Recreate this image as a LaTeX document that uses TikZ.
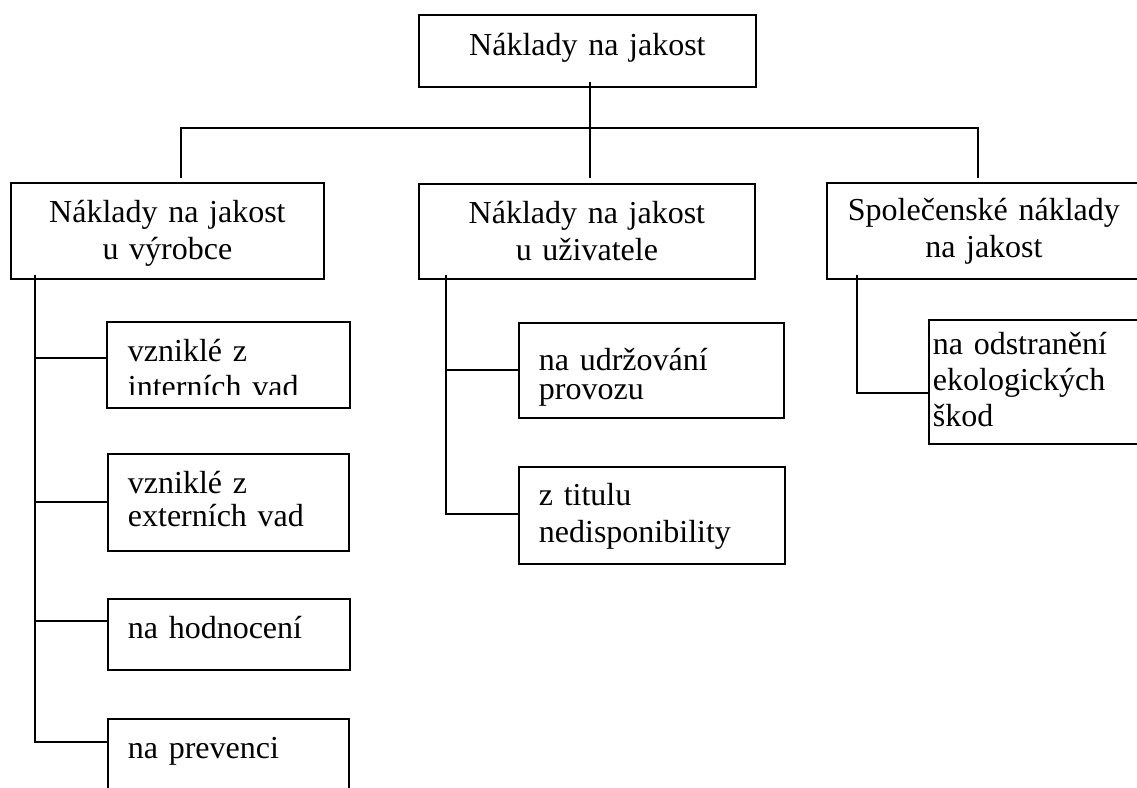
\documentclass[tikz,border=0pt]{standalone}
\usepackage{fontspec}
\setmainfont{Liberation Serif}
\tikzset{
  box/.style={draw, line width=1.8pt, anchor=north west, inner ysep=0pt, font=\fontsize{32}{37}\selectfont},
  head/.style={box, inner xsep=5pt, align=center},
  leaf/.style={box, inner xsep=20pt, align=left},
  dims/.style n args={3}{text width=#1, text height=#2, text depth=#3},
  link/.style={line width=1.8pt},
}
\begin{document}
\begin{tikzpicture}[x=1pt, y=-1pt]
\clip (0,0) rectangle (1137,787);

% upper level
\node[head, dims={327pt}{41pt}{31pt}] (top) at (418,14) {Náklady na jakost};
\node[head, dims={303pt}{40pt}{56pt}] (vyr) at (10,182) {Náklady na jakost\\u výrobce};
\node[head, dims={326pt}{40pt}{55pt}] (uziv) at (418,183) {Náklady na jakost\\u uživatele};
\node[head, dims={304pt}{38pt}{58pt}] (spol) at (826,182) {Společenské náklady\\na jakost};

% manufacturer
\begin{scope}
\clip (107,322) rectangle (348,394);
\node[leaf, draw=none, dims={201pt}{39pt}{45pt}, font=\fontsize{32}{36}\selectfont] (int) at (107,322) {vzniklé z\\interních vad};
\end{scope}
\draw[link] (int.north west) rectangle (int.south east);
\node[leaf, dims={201pt}{40pt}{57pt}, font=\fontsize{32}{33}\selectfont] (ext) at (107,453) {vzniklé z\\externích vad};
\node[leaf, dims={202pt}{40pt}{31pt}] (hod) at (107,598) {na hodnocení};
\node[leaf, dims={201pt}{40pt}{60pt}] (prev) at (107,718) {na prevenci};

% user
\node[leaf, dims={225pt}{48pt}{47pt}, font=\fontsize{32}{29}\selectfont] (udrz) at (518,322) {na udržování\\provozu};
\node[leaf, dims={226pt}{39pt}{58pt}] (titul) at (518,466) {z titulu\\nedisponibility};

% society
\node[leaf, inner xsep=4pt, dims={204pt}{35pt}{89pt}, font=\fontsize{32}{36}\selectfont] (ekol) at (928,319) {na odstranění\\ekologických\\škod};

% connectors
\coordinate (bus) at (590,128);
\draw[link, shorten <=-6pt, shorten >=5pt] (top.south -| bus) -- (uziv.north -| bus);
\draw[link, shorten <=4pt, shorten >=4pt] ([xshift=13.5pt]vyr.north) |- (bus) -| ([xshift=-6pt]spol.north);

\coordinate (vyrstem) at ([xshift=25pt, yshift=5pt]vyr.south west);
\foreach \n/\dy in {int/36, ext/49, hod/23, prev/24}
  \draw[link] (vyrstem) |- ([yshift=-\dy pt]\n.north west);

\coordinate (uzivstem) at ([xshift=28pt, yshift=5pt]uziv.south west);
\foreach \n/\dy in {udrz/48, titul/48}
  \draw[link] (uzivstem) |- ([yshift=-\dy pt]\n.north west);

\coordinate (spolstem) at ([xshift=31pt, yshift=5pt]spol.south west);
\draw[link] (spolstem) |- ([yshift=-74pt]ekol.north west);
\end{tikzpicture}
\end{document}
